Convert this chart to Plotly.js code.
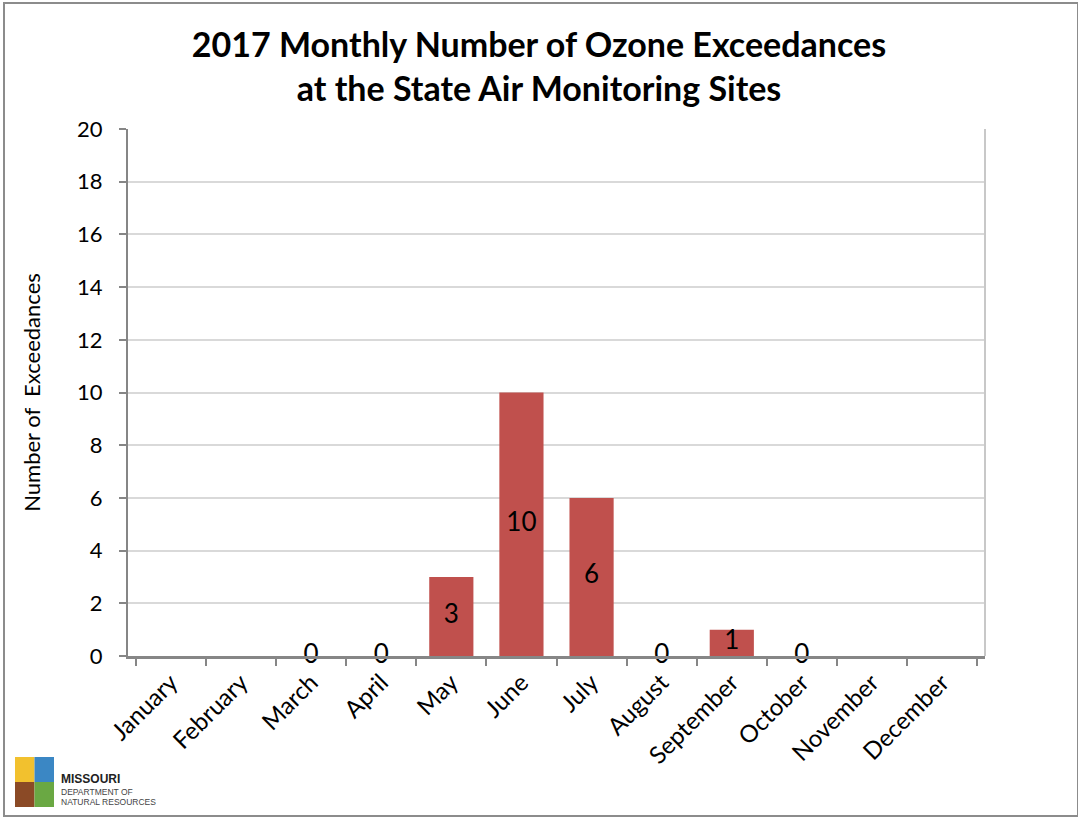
<!DOCTYPE html>
<html><head><meta charset="utf-8">
<script src="https://cdn.plot.ly/plotly-3.0.1.min.js"></script>
<style>
html,body{margin:0;padding:0;background:#fff;}
#wrap{position:relative;width:1078px;height:817px;}
#chart{position:absolute;left:0;top:0;width:1078px;height:817px;}
#frame{position:absolute;left:3px;top:2px;width:1072px;height:811px;border:2px solid #8c8c8c;pointer-events:none;}
</style></head>
<body>
<div id="wrap"><div id="chart"></div><div id="frame"></div></div>
<script>
const months = ["January","February","March","April","May","June","July","August","September","October","November","December"];
const exceedances = [null,null,0,0,3,10,6,0,1,0,null,null];
const yTicks = [0,2,4,6,8,10,12,14,16,18,20];

const FONT = "Lato, 'Open Sans', sans-serif";
const labelY = exceedances.map(v => v === null ? null : v/2);
const labelText = exceedances.map(v => v === null ? "" : String(v));

const bars = {
  type: "bar", x: months, y: exceedances,
  marker: {color: "#c0504d"}, hoverinfo: "skip", showlegend: false
};
const labels = {
  type: "scatter", mode: "text", x: months, y: labelY, text: labelText,
  textposition: "middle center", textfont: {family: FONT, size: 26, color: "#000"},
  cliponaxis: false, hoverinfo: "skip", showlegend: false
};

// plot area: 128..985 px wide (857), 129..656 px tall (527)
const PW = 857, PH = 527, PL = 128, PB = 656;
const px = v => (v - PL) / PW;
const py = v => (PB - v) / PH;

const layout = {
  width: 1078, height: 817,
  margin: {l: 128, r: 93, t: 129, b: 161},
  paper_bgcolor: "#fff", plot_bgcolor: "#fff",
  bargap: 0.37,
  font: {family: FONT, color: "#000"},
  title: {
    text: "<b>2017 Monthly Number of Ozone Exceedances<br>at the State Air Monitoring Sites</b>",
    font: {family: FONT, size: 34, color: "#000"},
    x: 0.5, xanchor: "center", y: 0.930, yanchor: "middle"
  },
  xaxis: {
    type: "category", tickangle: -45,
    tickfont: {family: FONT, size: 24, color: "#000"},
    showline: true, linecolor: "#868686", linewidth: 3,
    ticks: "outside", tickson: "boundaries", ticklen: 7, tickcolor: "#868686", tickwidth: 2,
    showgrid: false, zeroline: false, fixedrange: true
  },
  yaxis: {
    range: [0, 20], tickvals: yTicks, ticktext: yTicks.map(String),
    tickfont: {family: FONT, size: 22, color: "#000"},
    showline: true, linecolor: "#868686", linewidth: 2,
    ticks: "outside", ticklen: 7, tickcolor: "#868686", tickwidth: 2,
    ticklabelstandoff: 12,
    showgrid: true, gridcolor: "#d9d9d9", gridwidth: 2, zeroline: false,
    title: {text: "Number of&nbsp;&nbsp;Exceedances", font: {family: FONT, size: 22, color: "#000"}, standoff: 30},
    fixedrange: true
  },
  shapes: [
    {type: "line", xref: "paper", yref: "paper", x0: 1, x1: 1, y0: 0, y1: 1, line: {color: "#c8c8c8", width: 2}},
    {type: "rect", xref: "paper", yref: "paper", x0: px(15), x1: px(34.5), y0: py(782), y1: py(757), fillcolor: "#f2c12e", line: {width: 0}},
    {type: "rect", xref: "paper", yref: "paper", x0: px(34.5), x1: px(54), y0: py(782), y1: py(757), fillcolor: "#3b87c4", line: {width: 0}},
    {type: "rect", xref: "paper", yref: "paper", x0: px(15), x1: px(34.5), y0: py(807), y1: py(782), fillcolor: "#8b4a26", line: {width: 0}},
    {type: "rect", xref: "paper", yref: "paper", x0: px(34.5), x1: px(54), y0: py(807), y1: py(782), fillcolor: "#6aa843", line: {width: 0}}
  ],
  annotations: [
    {xref: "paper", yref: "paper", x: px(59), y: py(779), xanchor: "left", yanchor: "middle", showarrow: false,
     text: "<b>MISSOURI</b>", font: {family: "Liberation Sans, Arial, sans-serif", size: 12, color: "#222"}},
    {xref: "paper", yref: "paper", x: px(59), y: py(792), xanchor: "left", yanchor: "middle", showarrow: false,
     text: "DEPARTMENT OF", font: {family: "Liberation Sans, Arial, sans-serif", size: 8.5, color: "#444"}},
    {xref: "paper", yref: "paper", x: px(59), y: py(802), xanchor: "left", yanchor: "middle", showarrow: false,
     text: "NATURAL RESOURCES", font: {family: "Liberation Sans, Arial, sans-serif", size: 8.5, color: "#444"}}
  ]
};

Plotly.newPlot("chart", [bars, labels], layout, {displayModeBar: false, staticPlot: true});
</script>
</body></html>
